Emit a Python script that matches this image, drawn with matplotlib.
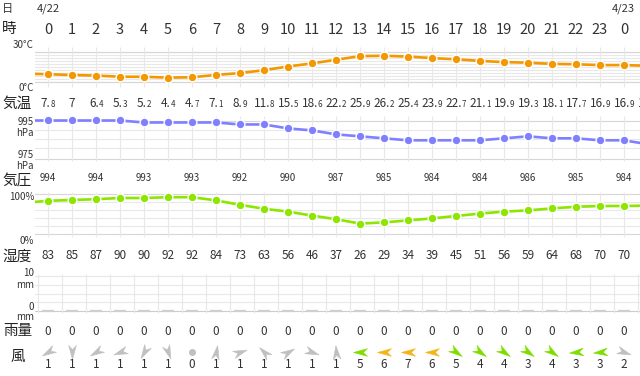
import matplotlib
matplotlib.use("Agg")
import matplotlib.pyplot as plt
from matplotlib.path import Path
from matplotlib.markers import MarkerStyle
from matplotlib.transforms import Affine2D

plt.rcParams['font.family'] = ['Noto Sans CJK JP', 'DejaVu Sans']

# data (hour -1 and 25 only feed the clipped line ends)
hours = list(range(-1, 26))
temps = [8.4, 7.8, 7, 6.4, 5.3, 5.2, 4.4, 4.7, 7.1, 8.9, 11.8, 15.5, 18.6,
         22.2, 25.9, 26.2, 25.4, 23.9, 22.7, 21.1, 19.9, 19.3, 18.1, 17.7,
         16.9, 16.9, 16.2]
pressure = [994, 994, 994, 994, 994, 993, 993, 993, 993, 992, 992, 990, 989,
            987, 986, 985, 984, 984, 984, 984, 985, 986, 985, 985, 984, 984, 982]
humidity = [78, 83, 85, 87, 90, 90, 92, 92, 84, 73, 63, 56, 46,
            37, 26, 29, 34, 39, 45, 51, 56, 59, 64, 68, 70, 70, 71]
day_hours = list(range(0, 25))
hour_labels = [str(h % 24) for h in day_hours]
rain = [0] * 25
wind_speed = [1, 1, 1, 1, 1, 1, 0, 1, 1, 1, 1, 1, 1,
              5, 6, 7, 6, 5, 4, 4, 3, 4, 3, 3, 2]
wind_dir = [210, 270, 210, 200, 240, 290, 0, 80, 20, 135, 30, -20, 95,
            180, 180, 180, 180, -35, -35, -35, -35, -35, 185, 185, -20]

W, H = 640, 376
LEFT = 35
X0, DX = 48, 24
XMIN, XMAX = (LEFT - X0) / DX, (W - X0) / DX
TXT = '#333333'
GRID = '#e8e8e8'
EDGE = '#d6d6d6'

fig = plt.figure(figsize=(W / 100, H / 100), dpi=100)


def px(x):
    return x / W


def py(y):
    return 1 - y / H


def band(top, bot, vtop, vbot, pad=10):
    k = (vtop - vbot) / (bot - top)
    ax = fig.add_axes([px(LEFT), py(bot + pad), (W - LEFT) / W, (bot - top + 2 * pad) / H])
    ax.set_xlim(XMIN, XMAX)
    ax.set_ylim(vbot - pad * k, vtop + pad * k)
    ax.axis('off')
    return ax, k


def series(ax, vals, color):
    ax.plot(hours, vals, color=color, lw=1.9, marker='o', ms=6.3,
            mfc=color, mec='white', mew=1.0, zorder=3)


# temperature
ax_t, k = band(52, 82, 30, 0)
for v in range(0, 31, 3):
    ax_t.axhline(v, color=GRID, lw=0.8)
ax_t.axhline(30, color=EDGE, lw=0.8)
ax_t.axhline(0, color=EDGE, lw=0.8)
ax_t.vlines(day_hours, 0 - 5 * k, 30 + 5 * k, color=GRID, lw=0.8)
series(ax_t, temps, '#f39800')

# pressure
ax_p, k = band(120.5, 160.1, 994, 974)
for v in [989.3, 984.8, 980.3]:
    ax_p.axhline(v, color=GRID, lw=0.8)
ax_p.axhline(993.75, color=EDGE, lw=0.8)
ax_p.axhline(974.4, color=EDGE, lw=0.8)
ax_p.vlines(day_hours, 974.4 - 2 * k, 993.75 + 5 * k, color=GRID, lw=0.8)
series(ax_p, pressure, '#8080ff')

# humidity
ax_h, k = band(194, 234, 100, 0)
for v in range(20, 100, 20):
    ax_h.axhline(v, color=GRID, lw=0.8)
ax_h.axhline(100, color=EDGE, lw=0.8)
ax_h.axhline(0, color=EDGE, lw=0.8)
ax_h.vlines(day_hours, 0 - 3 * k, 100 + 2 * k, color=GRID, lw=0.8)
series(ax_h, humidity, '#8ce600')

# rain
ax_r, k = band(276, 311, 10, 0)
for v in [2.5, 5, 7.5, 10]:
    ax_r.axhline(v, color=GRID, lw=0.8)
ax_r.axhline(0, color='#cccccc', lw=0.8)
ax_r.vlines([h - 0.43 for h in range(26)], 0 - 2 * k, 10 + 2 * k, color=GRID, lw=0.8)
ax_r.hlines(rain, [h - 0.26 for h in day_hours], [h + 0.26 for h in day_hours],
            color='#cfcfcf', lw=1.6, zorder=3)

# wind arrows
ax_w, k = band(345, 358, 1, 0)
dart = Path([(1, 0), (-1, 0.55), (-0.4, 0), (-1, -0.55), (1, 0)],
            [Path.MOVETO, Path.LINETO, Path.LINETO, Path.LINETO, Path.CLOSEPOLY])
for h, s, d in zip(day_hours, wind_speed, wind_dir):
    if s >= 6:
        c = '#f5b31c'
    elif s >= 3:
        c = '#80dd00'
    else:
        c = '#c0c0c0'
    if s == 0:
        ax_w.plot(h, 0.5, marker='o', ms=4, color=c, mec=c)
    else:
        m = MarkerStyle(dart, transform=Affine2D().rotate_deg(d))
        ax_w.plot(h, 0.5, marker=m, ms=10, color=c, mec=c, mew=0.4)

# header
fig.text(px(8), py(8.8), '日', fontsize=8, color=TXT, ha='center', va='center')
fig.text(px(X0 - 11.5), py(8.8), '4/22', fontsize=8, color=TXT, ha='left', va='center')
fig.text(px(X0 + DX * 24 - 12), py(8.8), '4/23', fontsize=8, color=TXT, ha='left', va='center')
fig.text(px(9), py(29), '時', fontsize=10.5, color='#222222', ha='center', va='center')
for h, lab in zip(day_hours, hour_labels):
    fig.text(px(X0 + DX * h), py(30), lab, fontsize=10.5, color=TXT, ha='center', va='center')

# axis captions
def cap(y, s, size=7):
    fig.text(px(34), py(y), s, fontsize=size, color=TXT, ha='right', va='center', linespacing=1.0)

cap(45, '30°C')
cap(88, '0°C')
cap(122, '995')
cap(133, 'hPa')
cap(155.5, '975')
cap(166, 'hPa')
cap(197.5, '100%')
cap(241, '0%')
cap(273, '10')
cap(285, 'mm')
cap(306.5, '0')
cap(317, 'mm')

# row titles
for y, s in [(104, '気温'), (181.5, '気圧'), (256.7, '湿度'), (331.5, '雨量'), (356.7, '風')]:
    fig.text(px(17.5), py(y), s, fontsize=10.5, color='#222222', ha='center', va='center')

# temperature values, decimal part smaller
renderer = fig.canvas.get_renderer()
for h, v in zip(hours, temps):
    if h < 0:
        continue
    big, _, small = f"{v:g}".partition('.')
    if small:
        big += '.'
    t1 = fig.text(0, py(107.3), big, fontsize=8.5, color=TXT, va='baseline')
    w1 = t1.get_window_extent(renderer).width
    w2 = 0
    if small:
        t2 = fig.text(0, py(107.3), small, fontsize=5.8, color=TXT, va='baseline')
        w2 = t2.get_window_extent(renderer).width
    x = X0 + DX * h - (w1 + w2) / 2
    t1.set_x(px(x))
    if small:
        t2.set_x(px(x + w1))

# pressure values every 2 hours
for h, v in zip(hours, pressure):
    if h >= 0 and h % 2 == 0:
        fig.text(px(X0 + DX * h), py(178), str(v), fontsize=7, color=TXT, ha='center', va='center')

# humidity values
for h, v in zip(hours, humidity):
    if 0 <= h <= 24:
        fig.text(px(X0 + DX * h), py(255.5), str(v), fontsize=8.5, color=TXT, ha='center', va='center')

# rain values
for h, v in zip(day_hours, rain):
    fig.text(px(X0 + DX * h), py(331.3), f"{v:g}", fontsize=8.5, color=TXT, ha='center', va='center')

# wind speeds
for h, v in zip(day_hours, wind_speed):
    fig.text(px(X0 + DX * h), py(364), str(v), fontsize=8.5, color=TXT, ha='center', va='center')

fig.savefig('out.png', dpi=100)
